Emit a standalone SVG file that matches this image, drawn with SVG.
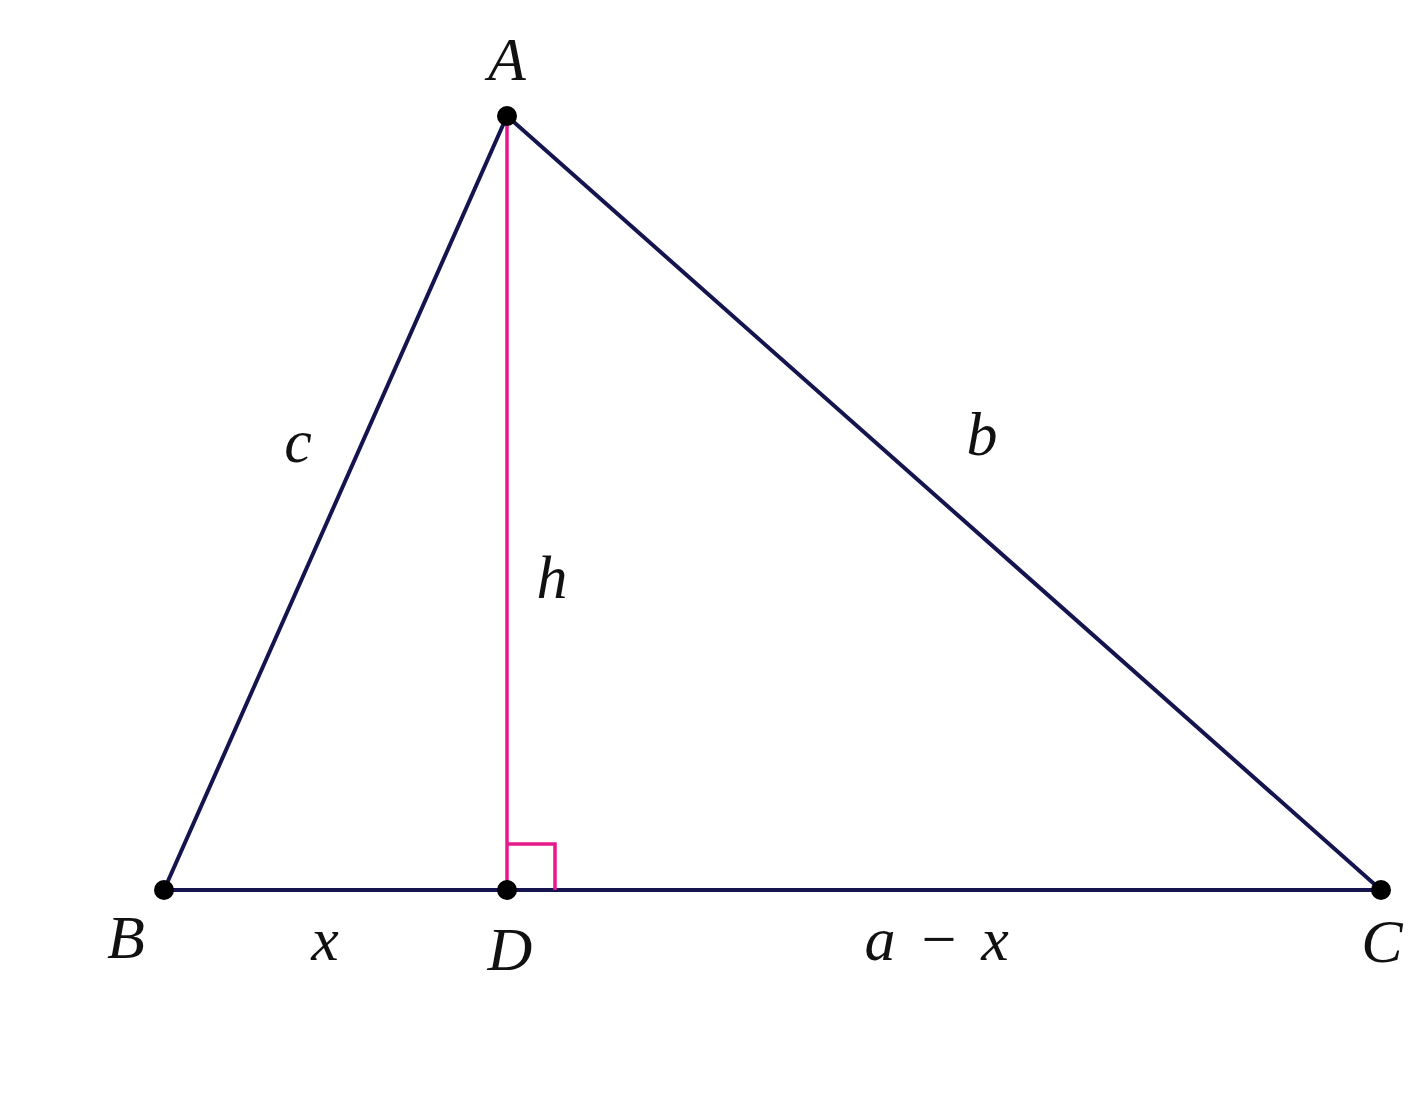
<svg xmlns="http://www.w3.org/2000/svg" width="1423" height="1105" viewBox="0 0 1423 1105">
<style>
.side{stroke:#14144e;stroke-width:4;fill:none;stroke-linecap:round}
.alt{stroke:#e8198b;stroke-width:3.5;fill:none}
.lbl{font-family:"Liberation Serif","DejaVu Serif",serif;font-style:italic;font-size:62px;fill:#111;text-anchor:middle}
.pt{fill:#000}
</style>
<rect width="1423" height="1105" fill="#ffffff"/>
<g id="connectors">
<line class="side" x1="507" y1="116" x2="164" y2="890"/>
<line class="side" x1="507" y1="116" x2="1381" y2="890"/>
<line class="side" x1="164" y1="890" x2="1381" y2="890"/>
<line class="alt" x1="507" y1="116" x2="507" y2="890"/>
<polyline class="alt" points="507,844 555,844 555,890"/>
</g>
<g id="A"><circle class="pt" cx="507" cy="116" r="10"/><text class="lbl" x="507" y="80">A</text></g>
<g id="B"><circle class="pt" cx="164" cy="890" r="10"/><text class="lbl" x="126" y="958">B</text></g>
<g id="D"><circle class="pt" cx="507" cy="890" r="10"/><text class="lbl" x="510" y="970">D</text></g>
<g id="C"><circle class="pt" cx="1381" cy="890" r="10"/><text class="lbl" x="1382" y="962">C</text></g>
<g id="labels">
<text class="lbl" x="298" y="462">c</text>
<text class="lbl" x="982" y="455">b</text>
<text class="lbl" x="552" y="598">h</text>
<text class="lbl" x="325" y="960">x</text>
<text class="lbl" x="937" y="960"><tspan x="880">a</tspan><tspan x="939" style="font-style:normal">−</tspan><tspan x="995">x</tspan></text>
</g>
</svg>
